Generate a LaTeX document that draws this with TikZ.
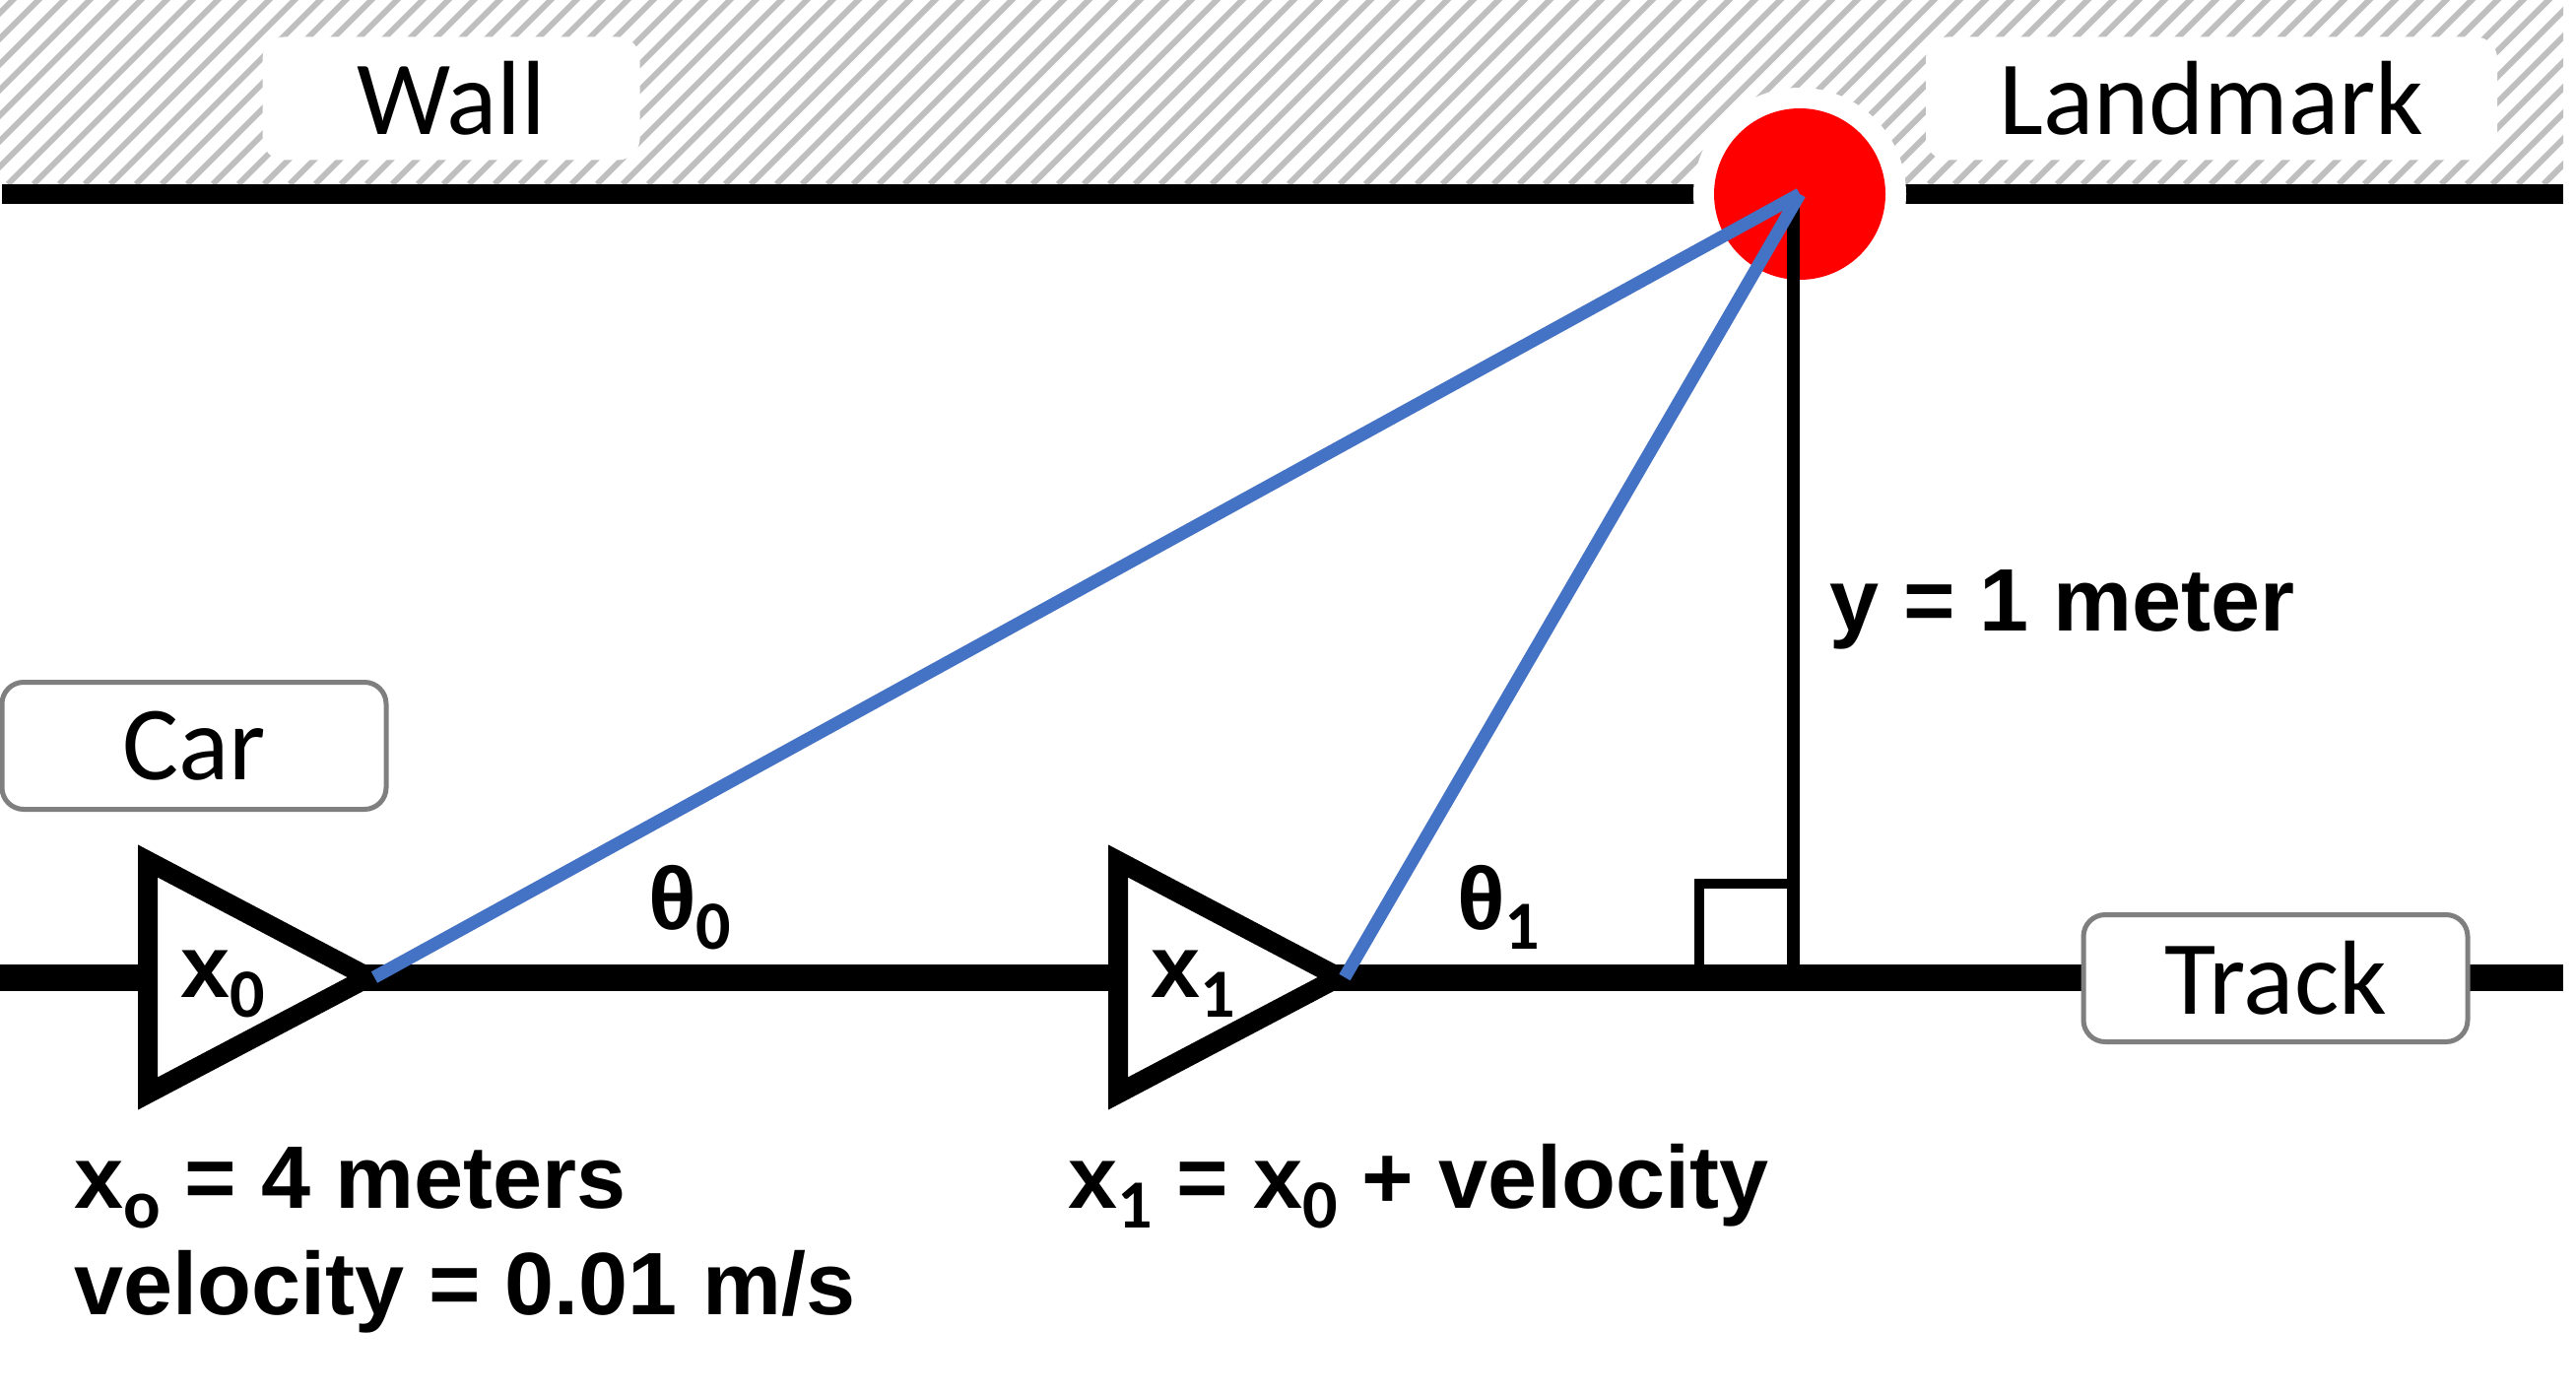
\documentclass[tikz,border=0pt]{standalone}
\usepackage{fontspec}
\setmainfont{Liberation Sans}
\newfontfamily\calfont{Carlito}
\usetikzlibrary{positioning}

\definecolor{hatchgray}{HTML}{BFBFBF}
\definecolor{sightblue}{HTML}{4472C4}
\definecolor{tagborder}{HTML}{7F7F7F}
\definecolor{lmred}{HTML}{FF0000}

% lowered subscript in the narrow face
\newcommand\lowidx[1]{\raisebox{-20pt}{\calfont\fontsize{70}{70}\selectfont #1}}

\begin{document}
\begin{tikzpicture}[
  x=1pt, y=-1pt,
  wall/.style={line width=20pt},
  track/.style={line width=27pt},
  hatchline/.style={draw=hatchgray, line width=6pt},
  sight/.style={draw=sightblue, line width=13pt},
  carshape/.style={draw, fill=white, line width=20pt, line join=miter, miter limit=20},
  tagbox/.style={draw=tagborder, line width=5pt, rounded corners=22pt, fill=white, inner sep=0pt,
    minimum width=390pt, minimum height=129pt, font=\calfont\fontsize{107}{107}\selectfont},
  walltag/.style={tagbox, draw=none, minimum height=125pt},
  eq/.style={anchor=base west, inner sep=0pt, font=\bfseries\fontsize{90}{90}\selectfont}
]
\useasboundingbox (0,0) rectangle (2615,1415);

% --- wall ---
\begin{scope}
  \clip (0,0) rectangle (2602,187);
  \foreach \hx in {-200,-174,...,2620}
    \draw[hatchline] (\hx,187) -- ++(190,-190);
\end{scope}
\draw[wall] (2,197) -- (2602,197);

% --- landmark ---
\coordinate (lm) at (1827,197);
\fill[white] (lm) circle (108pt);
\fill[lmred] (lm) circle (87pt);

\node[walltag, minimum width=383pt] (walllbl) at (458,100) {Wall};
\node[walltag, minimum width=580pt] (lmlbl) at (2245,100) {Landmark};

% --- track ---
\draw[track] (0,992) -- (2602,992);
\coordinate (foot) at (1820,992);
\draw[line width=13pt] (foot) -- (foot |- lm);
\draw[line width=10pt] (1725,992) -- (1725,897) -- (1820,897);

% --- cars ---
\draw[carshape] (150,874) -- (374,992) -- (150,1110) -- cycle;
\draw[carshape] (1135,874) -- (1359,992) -- (1135,1110) -- cycle;
\coordinate (tip0) at (380,992);
\coordinate (tip1) at (1365,992);

\draw[sight] (tip0) -- (lm);
\draw[sight] (tip1) -- (lm);

\node[tagbox] (carlbl) at (197,757) {Car};
\node[tagbox] (tracklbl) at (2310,993) {Track};

% --- labels ---
\node[eq] (x0) at (183,1012) {x\lowidx{0}};
\node[eq] (x1) at (1168,1012) {x\lowidx{1}};
\node[eq] (th0) at (658,943) {θ\lowidx{0}};
\node[eq] (th1) at (1479,943) {θ\lowidx{1}};
\node[eq] (ylen) at (1857,640) {y = 1 meter};

\node[eq] (start) at (75,1226) {x\lowidx{o} = 4 meters};
\node[eq] (speed) at (75,1334) {velocity = 0.01 m/s};
\node[eq] (step) at (1084,1226) {x\lowidx{1} = x\lowidx{0} + velocity};

\end{tikzpicture}
\end{document}
